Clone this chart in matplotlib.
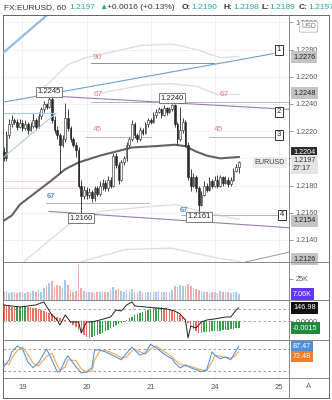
import numpy as np
import matplotlib
matplotlib.use('Agg')
import matplotlib.pyplot as plt
from matplotlib.lines import Line2D

plt.rcParams['font.family'] = ['Liberation Sans', 'DejaVu Sans']

# EURUSD hourly candles (index 0 = evening of the 18th)
first_open = 1.2205
closes = [1.2200, 1.2217, 1.2225, 1.2228, 1.2227, 1.2223, 1.2226, 1.2222, 1.2225, 1.2221,
          1.2224, 1.2228, 1.2223, 1.2231, 1.2236, 1.2240, 1.2238, 1.2244, 1.2228, 1.2221,
          1.2217, 1.2210, 1.2214, 1.2230, 1.2222, 1.2214, 1.2210, 1.2206, 1.2180, 1.2172,
          1.2177, 1.2173, 1.2175, 1.2171, 1.2178, 1.2174, 1.2180, 1.2182, 1.2178, 1.2184,
          1.2180, 1.2202, 1.2195, 1.2184, 1.2197, 1.2200, 1.2210, 1.2214, 1.2225, 1.2217,
          1.2214, 1.2221, 1.2219, 1.2225, 1.2228, 1.2227, 1.2232, 1.2234, 1.2236, 1.2232,
          1.2237, 1.2234, 1.2236, 1.2239, 1.2225, 1.2214, 1.2221, 1.2227, 1.2210, 1.2186,
          1.2180, 1.2186, 1.2178, 1.2166, 1.2173, 1.2180, 1.2177, 1.2183, 1.2180, 1.2184,
          1.2180, 1.2186, 1.2182, 1.2184, 1.2181, 1.2184, 1.2191, 1.2194, 1.2197]
highs = [1.2208, 1.2220, 1.2229, 1.2232, 1.2230, 1.2229, 1.2229, 1.2228, 1.2228, 1.2227,
         1.2227, 1.2233, 1.2230, 1.2234, 1.2238, 1.2242, 1.2241, 1.2245, 1.2245, 1.2231,
         1.2224, 1.2219, 1.2217, 1.2241, 1.2236, 1.2224, 1.2216, 1.2212, 1.2208, 1.2184,
         1.2180, 1.2179, 1.2178, 1.2177, 1.2180, 1.2180, 1.2183, 1.2185, 1.2184, 1.2187,
         1.2186, 1.2204, 1.2204, 1.2197, 1.2199, 1.2202, 1.2212, 1.2216, 1.2228, 1.2227,
         1.2219, 1.2223, 1.2222, 1.2227, 1.2230, 1.2230, 1.2234, 1.2236, 1.2238, 1.2237,
         1.2239, 1.2238, 1.2238, 1.2240, 1.2240, 1.2227, 1.2238, 1.2230, 1.2228, 1.2212,
         1.2192, 1.2189, 1.2188, 1.2180, 1.2176, 1.2183, 1.2182, 1.2186, 1.2185, 1.2187,
         1.2188, 1.2188, 1.2187, 1.2187, 1.2186, 1.2186, 1.2193, 1.2196, 1.2198]
lows = [1.2198, 1.2198, 1.2215, 1.2223, 1.2225, 1.2221, 1.2222, 1.2220, 1.2221, 1.2218,
        1.2220, 1.2222, 1.2221, 1.2222, 1.2229, 1.2234, 1.2236, 1.2237, 1.2226, 1.2219,
        1.2214, 1.2189, 1.2208, 1.2212, 1.2220, 1.2212, 1.2208, 1.2201, 1.2178, 1.2160,
        1.2170, 1.2170, 1.2171, 1.2168, 1.2169, 1.2172, 1.2172, 1.2177, 1.2176, 1.2176,
        1.2178, 1.2179, 1.2193, 1.2181, 1.2183, 1.2195, 1.2198, 1.2208, 1.2213, 1.2215,
        1.2212, 1.2213, 1.2217, 1.2218, 1.2223, 1.2225, 1.2226, 1.2230, 1.2233, 1.2230,
        1.2231, 1.2232, 1.2233, 1.2235, 1.2223, 1.2210, 1.2213, 1.2219, 1.2208, 1.2184,
        1.2176, 1.2179, 1.2175, 1.2161, 1.2165, 1.2172, 1.2175, 1.2176, 1.2178, 1.2179,
        1.2178, 1.2179, 1.2180, 1.2181, 1.2179, 1.2180, 1.2183, 1.2190, 1.2189]
volume_k = [9, 11, 8, 10, 9, 8, 9, 10, 8, 9,
            8, 11, 9, 12, 10, 14, 16, 20, 22, 15,
            18, 16, 14, 24, 18, 12, 10, 11, 42, 14,
            11, 9, 10, 9, 8, 10, 9, 11, 10, 9,
            12, 15, 12, 13, 11, 10, 12, 11, 13, 10,
            9, 11, 10, 9, 10, 9, 10, 9, 11, 10,
            9, 10, 9, 12, 17, 15, 18, 16, 17, 19,
            16, 14, 13, 12, 11, 10, 9, 8, 9, 10,
            8, 11, 9, 10, 9, 8, 10, 9, 7.06]
# MACD histogram in units of 0.0001
macd_hist_e4 = [34, 33, 32, 31, 29, 30, 31, 32, 33, 30, 29, 28, 27, 26, 24,
                21, 19, 17, 15, 11, 9, 6, 4, 2, 1,
                -4, -9, -13, -19, -26, -30, -34, -36,
                -34, -32, -30, -28, -26, -21, -19, -15, -13, -9, -6, -4, -2,
                2, 6, 9, 13, 15, 17, 19, 21, 24, 26, 28, 28.5, 30, 30.5,
                28, 27, 26, 24, 21, 17, 13, 9, 4,
                -4, -11, -17, -21, -25, -26, -24,
                -23, -22.5, -22, -21.5, -21, -20.5, -20, -19.5, -19, -18, -17, -16, -15]
cci_idx = [0, 6, 12, 15, 18, 20, 21, 23, 25, 28, 29, 31, 33, 36, 40, 42, 44, 46, 48, 49,
           53, 57, 61, 64, 66, 68, 69, 70, 72, 74, 76, 79, 83, 85, 87, 88]
cci_val = [181, 158, 181, 215, 68, 11, -45, 68, -11, -11, -136, -11, -11, 11, 45, 124, 113, 181, 215, 170,
           158, 147, 136, 113, 79, 11, -192, -57, -79, -11, 11, 23, 45, 45, 124, 146.98]
stoch_idx = [0, 2, 3, 5, 7, 9, 11, 13, 16, 18, 20, 21, 23, 24, 27, 29, 31, 33, 34, 36, 38, 42, 44, 46,
             48, 49, 51, 53, 55, 57, 59, 61, 63, 64, 66, 68, 70, 72, 74, 76, 78, 79, 81, 83, 85, 86, 88]
stoch_k = [31, 50, 72, 88, 80, 44, 28, 42, 80, 50, 17, 17, 50, 61, 31, 14, 17, 28, 77, 77, 72, 58, 50, 69,
           85, 77, 63, 69, 93, 83, 72, 61, 53, 42, 28, 36, 28, 23, 17, 23, 72, 63, 53, 58, 50, 63, 87.47]
stoch_d = [40, 38, 55, 75, 85, 65, 40, 33, 60, 68, 35, 22, 30, 50, 48, 25, 16, 20, 50, 75, 76, 65, 55, 58,
           75, 80, 72, 66, 80, 88, 78, 68, 58, 50, 38, 33, 32, 27, 22, 20, 45, 62, 60, 56, 55, 57, 72.48]
ma_idx = [-1, 3, 6, 12, 18, 23, 28, 36, 48, 57, 64, 68, 72, 76, 81, 88]
ma_val = [1.2153, 1.2158, 1.2166, 1.2175, 1.2184, 1.2192, 1.2197, 1.2202, 1.2208, 1.2209,
          1.2210, 1.2209, 1.2205, 1.2202, 1.2200, 1.2201]

# light envelope curves
env_up_idx = [13.9, 24, 30.7, 51.3, 63.3, 71.9, 81.3, 88]
env_up_val = [1.2250, 1.2269, 1.2274, 1.2283, 1.2284, 1.2280, 1.2274, 1.2275]
env_up2_idx = [36.3, 52.4, 62.6, 71.9, 80.1, 88]
env_up2_val = [1.2248, 1.2254, 1.2255, 1.2253, 1.2247, 1.2247]
env_lo_idx = [7.5, 24, 36.3, 51.3, 64.4, 73.8, 88]
env_lo_val = [1.2124, 1.2151, 1.2161, 1.2164, 1.2166, 1.2161, 1.2155]
env_lo2_idx = [28.8, 45.7, 62.6, 79.4, 88.7]
env_lo2_val = [1.2124, 1.2133, 1.2134, 1.2127, 1.2124]

# drawn trend lines: (indices, prices, colour, width)
trend_lines = [
    ([0, 18.4], [1.2278, 1.2309], '#8dbbe3', 1.6),
    ([-1, 101], [1.2241, 1.2277], '#6d9fcf', 0.8),
    ([0, 19.5], [1.2201, 1.2233], '#a9c9e8', 0.8),
    ([0, 19], [1.2233, 1.2233], '#a9c9e8', 0.8),
    ([16.5, 106.8], [1.2246, 1.2236], '#a07aae', 0.8),
    ([16.9, 106.8], [1.2161, 1.2149], '#a07aae', 0.8),
    ([88.7, 106.8], [1.2123, 1.2131], '#9a9a9a', 0.7),
]
# horizontal levels: (price, start, end, colour)
levels = [
    (1.2270, 32.6, 78.7, '#8c8c8c'),
    (1.22415, 32.6, 106.8, '#b5b5b5'),
    (1.2216, 30.7, 55, '#b5b5b5'),
    (1.2216, 76.8, 101, '#b5b5b5'),
    (1.2167, 15.7, 54.3, '#b5b5b5'),
    (1.2158, 66.3, 102.6, '#b5b5b5'),
    (1.2183, 0, 27, '#efd3d3'),
    (1.2178, 0, 27, '#efd3d3'),
]
level_texts = [('90', 35.2, 1.22745, '#e5837a'), ('67', 35.2, 1.22466, '#e5837a'),
               ('67', 82.4, 1.22466, '#e5837a'), ('45', 35.2, 1.22209, '#e5837a'),
               ('45', 80.5, 1.22209, '#e5837a'), ('67', 17.6, 1.21716, '#4f8fd0'),
               ('67', 67.4, 1.2162, '#4f8fd0')]
markers = [('1', 103, 1.22797), ('2', 103, 1.22341), ('3', 103, 1.22172), ('4', 104.1, 1.21584)]
peak_labels = [('1.2245', 17, 1.2245, 1), ('1.2240', 63, 1.2240, 1),
               ('1.2160', 29, 1.2160, -1), ('1.2161', 73, 1.2161, -1)]
scale_boxes = [('1.2276', 1.22745), ('1.2248', 1.2248), ('1.2154', 1.2154), ('1.2126', 1.2126)]
price_ticks = [1.2140, 1.2160, 1.2180, 1.2200, 1.2220, 1.2240, 1.2260, 1.2280, 1.2300]
day_ticks = [7, 31, 55, 79, 103]
day_labels = ['19', '20', '21', '24', '25']

W, H = 332, 400
fig = plt.figure(figsize=(W / 100, H / 100), dpi=100)


def rect(x0, y0, x1, y1):
    return [x0 / W, 1 - y1 / H, (x1 - x0) / W, (y1 - y0) / H]


def right_ticks(a):
    a.yaxis.tick_right()
    a.tick_params(axis='y', labelsize=5.2, colors='#888888', labelcolor='#555555',
                  length=3, width=0.6, pad=1.5)


ax = fig.add_axes(rect(3, 15, 289, 262))
axv = fig.add_axes(rect(3, 262, 289, 300), sharex=ax)
axm = fig.add_axes(rect(3, 300, 289, 340), sharex=ax)
axs = fig.add_axes(rect(3, 340, 289, 378), sharex=ax)
ax.set_xlim(-0.3, 106.8)

for a in (ax, axv, axm, axs):
    for s in a.spines.values():
        s.set_color('#888888')
        s.set_linewidth(0.7)
    a.spines['left'].set_color('#666666')
    a.set_xticks(day_ticks)
    a.grid(axis='x', color='#f0f0f0', lw=0.6)
    a.set_axisbelow(True)
    a.tick_params(axis='x', length=0, labelbottom=False)
    right_ticks(a)

# ---- price panel
idx = np.arange(len(closes))
opens = np.array([first_open] + closes[:-1])
closes_a = np.array(closes)
up = closes_a >= opens
ax.vlines(idx, lows, highs, color='#222222', lw=0.6, zorder=3)
body_h = np.maximum(np.abs(closes_a - opens), 0.00005)
ax.bar(idx, body_h, bottom=np.minimum(opens, closes_a), width=0.62,
       color=np.where(up, '#ffffff', '#2a2a2a'), edgecolor='#222222', lw=0.4, zorder=4)

ax.plot(ma_idx, ma_val, color='#626262', lw=1.5, zorder=2)
for xs, ys in [(env_up_idx, env_up_val), (env_up2_idx, env_up2_val),
               (env_lo_idx, env_lo_val), (env_lo2_idx, env_lo2_val)]:
    ax.plot(xs, ys, color='#dedede', lw=1.0, zorder=1)
for xs, ys, c, lw in trend_lines:
    ax.plot(xs, ys, color=c, lw=lw, zorder=5)
for p, x0, x1, c in levels:
    ax.plot([x0, x1], [p, p], color=c, lw=0.7, zorder=1.5)
for t, x, y, c in level_texts:
    ax.text(x, y, t, color=c, fontsize=6 if c != '#4f8fd0' else 5.5,
            fontweight='normal' if c != '#4f8fd0' else 'bold',
            ha='center', va='center', zorder=6)
for t, x, y in markers:
    ax.text(x, y, t, fontsize=5.5, ha='center', va='center', color='#222222', zorder=7,
            bbox=dict(boxstyle='square,pad=0.25', fc='white', ec='#333333', lw=0.7))
for t, x, y, side in peak_labels:
    ax.annotate(t, xy=(x, y), xytext=(0, 2 * side), textcoords='offset pixels',
                ha='center', va='bottom' if side > 0 else 'top', fontsize=5.5, color='#222222',
                zorder=7, bbox=dict(boxstyle='square,pad=0.2', fc='white', ec='#666666', lw=0.6))

ax.set_ylim(1.21238, 1.23054)
ax.set_yticks(price_ticks)
ax.set_yticklabels([f'{p:.4f}' for p in price_ticks])
ax.grid(axis='y', color='#f0f0f0', lw=0.6)


def scale_label(a, y, text, fc, tc, dy=0, fs=5.2):
    a.annotate(text, xy=(1.0, y), xycoords=('axes fraction', 'data'), xytext=(4, dy),
               textcoords='offset pixels', ha='left', va='center', fontsize=fs, color=tc,
               annotation_clip=False, zorder=10,
               bbox=dict(boxstyle='square,pad=0.3', fc=fc, ec='none'))


for t, y in scale_boxes:
    scale_label(ax, y, t, '#c4c4c4', '#222222')
scale_label(ax, 1.22045, '1.2204', '#2b2b2b', 'white')
ax.annotate('1.2197\n27:17', xy=(1.0, closes[-1]), xycoords=('axes fraction', 'data'),
            xytext=(4, 5), textcoords='offset pixels', ha='left', va='top', fontsize=5.2,
            color='#333333', linespacing=1.1, annotation_clip=False, zorder=11,
            bbox=dict(boxstyle='square,pad=0.3', fc='#e4e4e4', ec='none'))
ax.annotate('EURUSD', xy=(0.985, closes[-1]), xycoords=('axes fraction', 'data'),
            ha='right', va='center', fontsize=5.2, color='#444444', zorder=11,
            bbox=dict(boxstyle='square,pad=0.25', fc='#ececec', ec='none'))
ax.annotate('USD', xy=(1.0, 1.22966), xycoords=('axes fraction', 'data'), xytext=(12, 0),
            textcoords='offset pixels', ha='left', va='center', fontsize=5, color='#777777',
            annotation_clip=False, zorder=11,
            bbox=dict(boxstyle='round,pad=0.25', fc='white', ec='#bbbbbb', lw=0.6))

# ---- volume panel
axv.bar(idx, np.array(volume_k) * 1000, width=0.6,
        color=np.where(up, '#a6c9ec', '#f2aaaa'), zorder=2)
axv.set_ylim(0, 45000)
axv.set_yticks([25000])
axv.set_yticklabels(['25K'])
scale_label(axv, 7060, '7.06K', '#6236ff', 'white')

# ---- MACD histogram + oscillator line
hist = np.array(macd_hist_e4) * 1e-4
hist_cols = ['#ef6f5e'] + ['#3a9d4a' if hist[i] > hist[i - 1] else '#ef6f5e'
                           for i in range(1, len(hist))]
axm.bar(idx, hist, width=0.55, color=hist_cols, zorder=2)
axm.set_ylim(-40.7e-4, 45e-4)
axm.axhline(0, color='#999999', lw=0.6, ls=(0, (3, 3)), zorder=1)
axc = axm.twinx()
axc.set_ylim(-215, 237)
axc.axis('off')
axc.axhline(136, color='#999999', lw=0.6, ls=(0, (3, 3)), zorder=1)
axc.plot(cci_idx, cci_val, color='#222222', lw=0.7, zorder=3)
# twinx moves the host ticks to the left, put them back on the price scale
right_ticks(axm)
axm.set_yticks([0])
axm.set_yticklabels(['0.0000'])
scale_label(axc, 146.98, '146.98', '#111111', 'white')
scale_label(axm, -0.0015, '-0.0015', '#1e8a3a', 'white')

# ---- stochastic
axs.plot(stoch_idx, stoch_d, color='#f5a35c', lw=0.8, zorder=2)
axs.plot(stoch_idx, stoch_k, color='#5b94d6', lw=0.8, zorder=3)
for lv in (80, 20):
    axs.axhline(lv, color='#888888', lw=0.6, ls=(0, (3, 3)), zorder=1)
axs.set_ylim(0, 104.5)
axs.set_yticks([])
scale_label(axs, 87.47, '87.47', '#4f8fe0', 'white')
scale_label(axs, 72.48, '72.48', '#f57c20', 'white', dy=-5)
axs.set_xticklabels(day_labels)
axs.tick_params(axis='x', labelbottom=True, labelsize=5.5, labelcolor='#555555', pad=4)


# ---- frame and pane separators across the price scale
def hline(y, x0=3, x1=329, c='#888888'):
    fig.add_artist(Line2D([x0 / W, x1 / W], [1 - y / H] * 2, color=c, lw=0.7))


def vline(x, y0, y1, c='#888888'):
    fig.add_artist(Line2D([x / W] * 2, [1 - y0 / H, 1 - y1 / H], color=c, lw=0.7))


for y in (262, 300, 340, 378):
    hline(y, 289, 329)
hline(15, c='#666666')
hline(398, c='#666666')
vline(3, 378, 398, c='#666666')
vline(329, 15, 398, c='#666666')
vline(289, 378, 398)
fig.text(309 / W, 1 - 387 / H, 'A', fontsize=5.5, color='#666666', ha='center', va='center')

# ---- header line
title_parts = [('FX:EURUSD, 60', 4, '#333333', 'normal'), ('1.2197', 69, '#26a69a', 'normal'),
               ('\u25b2', 99, '#26a69a', 'normal'), ('+0.0016 (+0.13%)', 107, '#333333', 'normal'),
               ('O:', 182, '#333333', 'bold'), ('1.2190', 191, '#26a69a', 'normal'),
               ('H:', 224, '#333333', 'bold'), ('1.2198', 233, '#26a69a', 'normal'),
               ('L:', 261, '#333333', 'bold'), ('1.2189', 269, '#26a69a', 'normal'),
               ('C:', 299, '#333333', 'bold'), ('1.2197', 308, '#26a69a', 'normal')]
for t, x, c, w in title_parts:
    fig.text(x / W, 1 - 7.5 / H, t, fontsize=6, color=c, fontweight=w, ha='left', va='center')

fig.savefig('out.png', dpi=100)
